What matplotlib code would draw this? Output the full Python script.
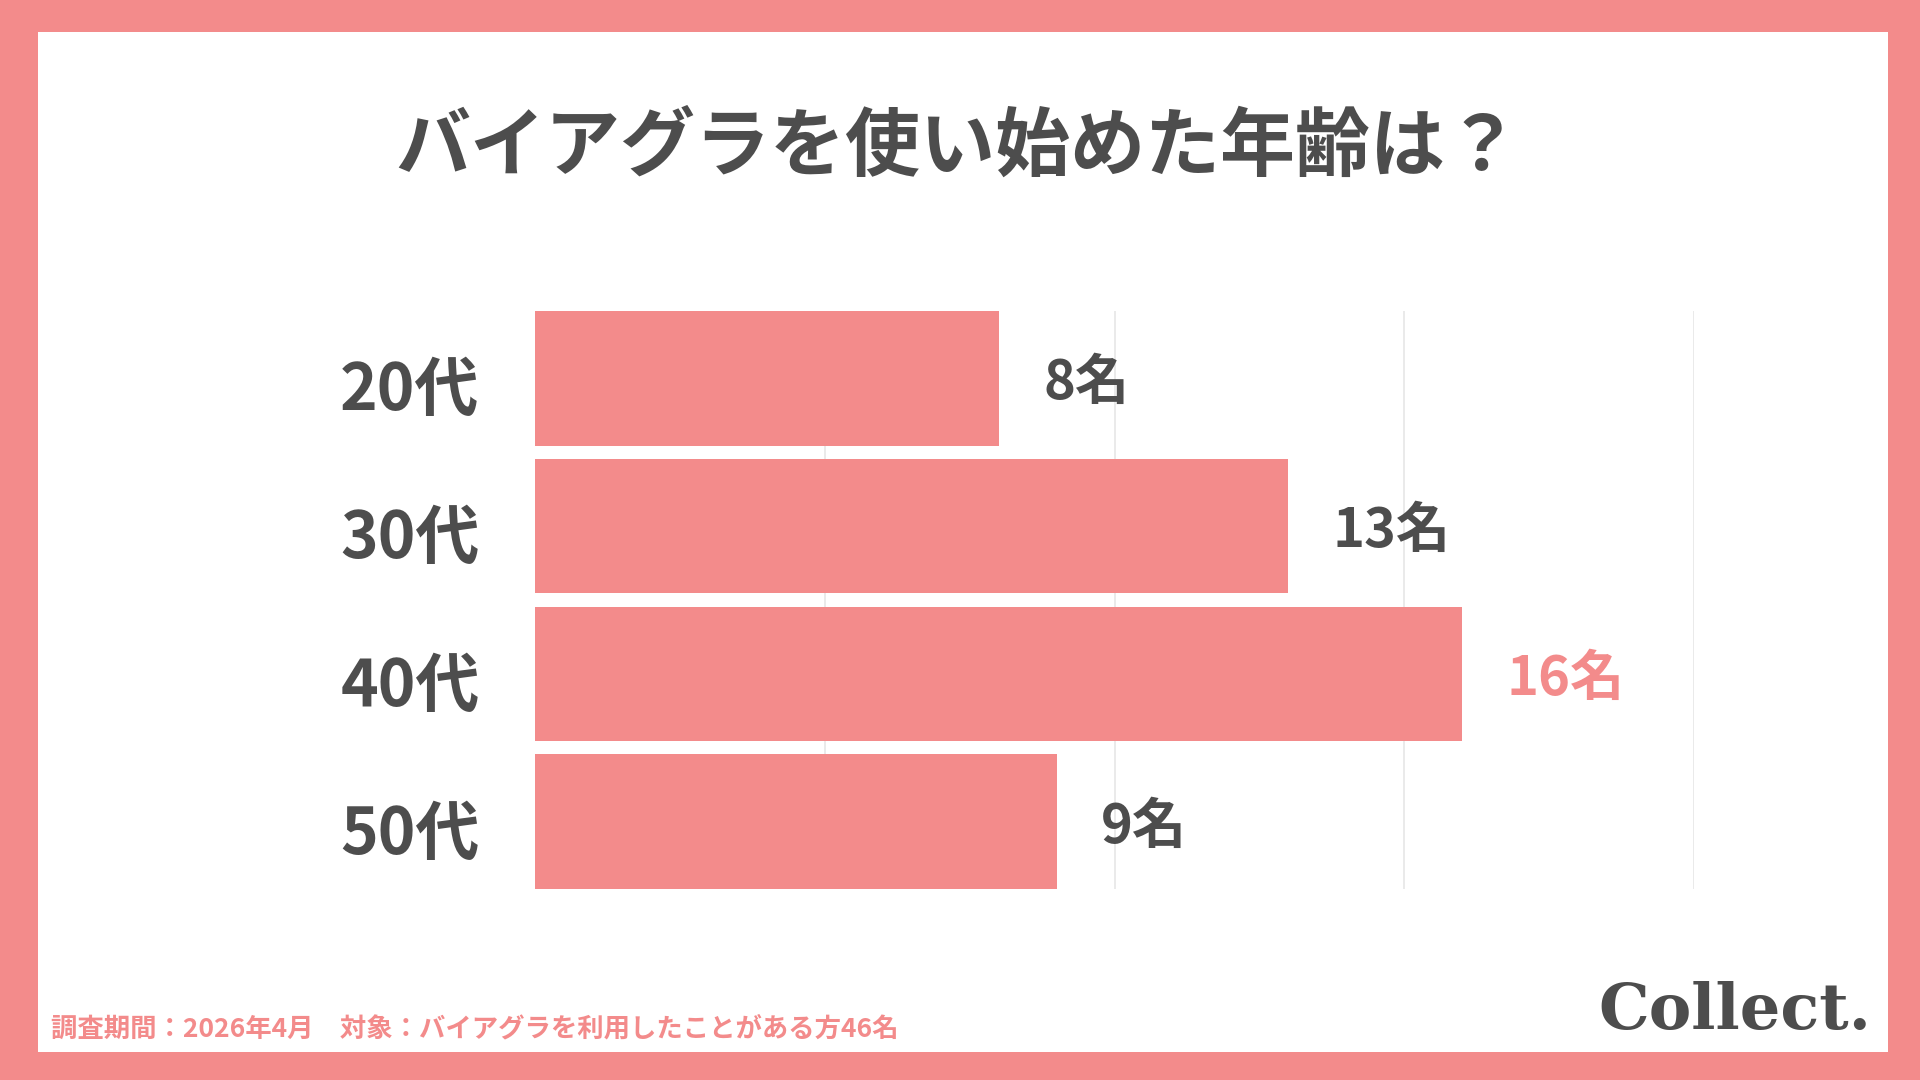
import matplotlib.pyplot as plt
import matplotlib.transforms as mtransforms
from matplotlib.patches import Rectangle

plt.rcParams['font.family'] = ['Noto Sans CJK JP', 'DejaVu Sans']

categories = ['20代', '30代', '40代', '50代']
counts = [8, 13, 16, 9]
unit = '名'
title = 'バイアグラを使い始めた年齢は？'
footer = '調査期間：2026年4月　対象：バイアグラを利用したことがある方46名'

pink = '#F38B8B'
dark = '#4D4D4D'

fig = plt.figure(figsize=(19.2, 10.8), dpi=100, facecolor=pink)
# white card inside the pink frame
fig.patches.append(Rectangle((38 / 1920, 28 / 1080), (1888 - 38) / 1920, (1048 - 28) / 1080,
                             transform=fig.transFigure, facecolor='white', edgecolor='none', zorder=-10))

ax = fig.add_axes([535 / 1920, 1 - 889 / 1080, 1159 / 1920, 578 / 1080])
ax.set_facecolor('none')

y = range(len(categories))
bars = ax.barh(y, counts, height=0.91, color=pink, zorder=2)
ax.set_xlim(0, 20)
ax.set_ylim(3.455, -0.455)
ax.set_xticks([5, 10, 15, 20])
ax.grid(axis='x', color='#E6E6E6', linewidth=1.2, zorder=1)
ax.tick_params(axis='x', length=0, labelbottom=False)
ax.set_yticks(list(y))
ax.set_yticklabels(categories, fontsize=46, fontweight='bold', color=dark)
ax.tick_params(axis='y', length=0, pad=40)
shift = mtransforms.ScaledTranslation(0, -6 / 100, fig.dpi_scale_trans)
for lab in ax.get_yticklabels():
    lab.set_transform(lab.get_transform() + shift)
for s in ax.spines.values():
    s.set_visible(False)

top = max(counts)
for b, v in zip(bars, counts):
    c = pink if v == top else dark
    ax.annotate(f'{v}{unit}', xy=(v, b.get_y() + b.get_height() / 2), xytext=(32, -4),
                textcoords='offset points', ha='left', va='center',
                fontsize=39, fontweight='bold', color=c)

fig.text(958 / 1920, 1 - 148 / 1080, title, ha='center', va='center',
         fontsize=54, fontweight='bold', color=dark)
fig.text(51 / 1920, 1 - 1029 / 1080, footer, ha='left', va='center',
         fontsize=19, fontweight='bold', color=pink)
fig.text(1871 / 1920, 1 - 1012 / 1080, 'Collect.', ha='right', va='center',
         fontsize=46, fontweight='bold', color=dark, family='DejaVu Serif')

fig.savefig('out.png', dpi=100, facecolor=pink)
